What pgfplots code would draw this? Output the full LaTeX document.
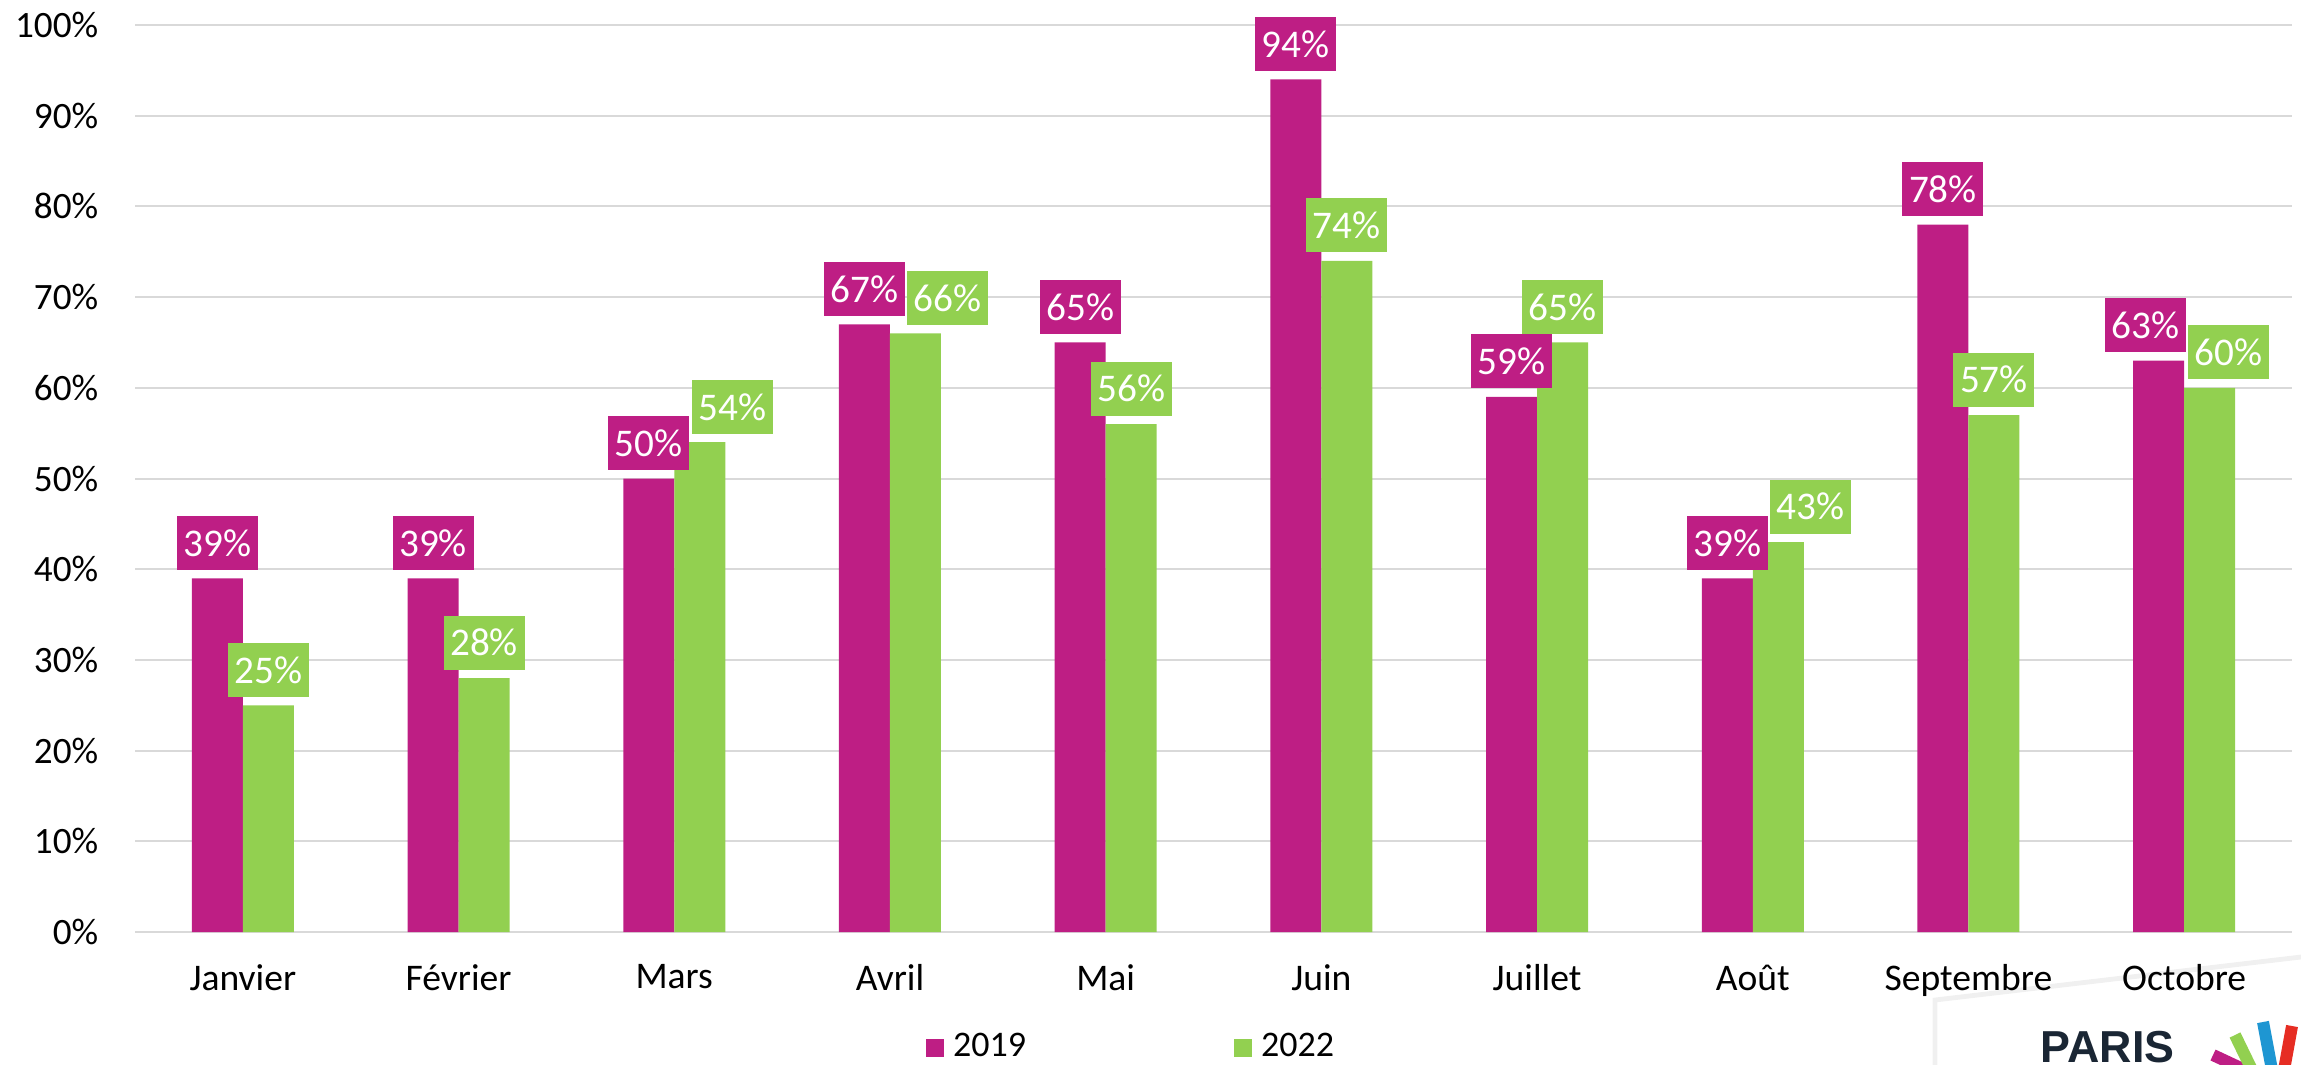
\documentclass[border=0pt]{standalone}
\usepackage{fontspec}
\setmainfont{Carlito}
\newfontfamily\logofont{Liberation Sans}
\usepackage{pgfplots}
\usepackage{pgfplotstable}
\pgfplotsset{compat=1.18}
\definecolor{c19}{RGB}{190,30,132}
\definecolor{c22}{RGB}{146,208,80}
\definecolor{gridc}{RGB}{217,217,217}
\definecolor{logoc}{RGB}{26,38,52}
\definecolor{lblue}{RGB}{30,150,210}
\definecolor{lred}{RGB}{230,45,35}

% x = month index, y = percentage, dx = label shift (pt) as placed in the original
\pgfplotstableread{
x y dx
0 39 0
1 39 0
2 50 0
3 67 0
4 65 0
5 94 0
6 59 0
7 39 0
8 78 0
9 63 -3.25
}\datadixneuf
\pgfplotstableread{
x y dx
0 25 0
1 28 0
2 54 8.1
3 66 8
4 56 0
5 74 0
6 65 0
7 43 8.1
8 57 0
9 60 4.75
}\datavingtdeux

\begin{document}
\begin{tikzpicture}
\path[use as bounding box] (-33.75pt,-33pt) rectangle (541.5pt,233pt);
\draw[gray!12, line width=1.2pt] (450pt,-34pt) -- (450pt,-17pt) -- (541.5pt,-6.25pt);
\begin{axis}[
  scale only axis, width=539.25pt, height=226.75pt,
  xmin=-0.5, xmax=9.5, ymin=0, ymax=100,
  ybar=0pt, bar width=12.75pt,
  xtick={0,...,9},
  xticklabels={Janvier,Février,Mars,Avril,Mai,Juin,Juillet,Août,Septembre,Octobre},
  ytick={0,10,...,100},
  yticklabel={\pgfmathprintnumber{\tick}\%},
  /pgf/number format/assume math mode=true,
  axis line style={draw=none},
  major tick length=0pt,
  ymajorgrids, grid style={gridc, line width=0.5pt},
  yticklabel style={font=\fontsize{9.3}{10}\selectfont, inner sep=0pt, xshift=-9pt},
  xticklabel style={font=\fontsize{9.4}{10}\selectfont, inner sep=0pt, yshift=-8pt},
  clip=false,
  legend columns=2,
  legend style={at={(0.4613,-0.128)}, anchor=center, draw=none, fill=none,
    font=\fontsize{9}{10}\selectfont,
    nodes={inner sep=0pt},
    /tikz/every odd column/.append style={column sep=2.25pt},
    /tikz/every even column/.append style={column sep=52pt}},
  lbl/.style={nodes near coords={\pgfmathprintnumber{\pgfplotspointmeta}\%},
    visualization depends on={\thisrow{dx} \as \dx},
    every node near coord/.append style={fill=#1,
      text=white, font=\fontsize{9.8}{10}\selectfont,
      minimum width=20.25pt, minimum height=13.5pt, inner sep=0pt,
      anchor=south, yshift=1.9pt, xshift=\dx pt}},
]
\addplot[fill=c19, draw=none, lbl=c19,
  legend image code/.code={\fill[c19] (0pt,-2.25pt) rectangle (4.5pt,2.25pt);}]
  table[x=x, y=y] {\datadixneuf};
\addplot[fill=c22, draw=none, lbl=c22,
  legend image code/.code={\fill[c22] (0pt,-2.25pt) rectangle (4.5pt,2.25pt);}]
  table[x=x, y=y] {\datavingtdeux};
\legend{2019,2022}
\end{axis}
% decorative logo fragment (bottom right)
\node[anchor=base west, font=\logofont\bfseries\fontsize{11.2}{12}\selectfont, text=logoc, inner sep=0pt] at (476.25pt,-32.5pt) {PARIS};
\draw[c19, line width=3pt] (519.5pt,-30.75pt) -- (527.5pt,-34.5pt);
\draw[c22, line width=3pt] (525pt,-25.75pt) -- (529.25pt,-34.5pt);
\draw[lblue, line width=3pt] (532pt,-22.5pt) -- (534.25pt,-34.5pt);
\draw[lred, line width=3pt] (539.25pt,-23.5pt) -- (537.25pt,-34.5pt);
\end{tikzpicture}
\end{document}
